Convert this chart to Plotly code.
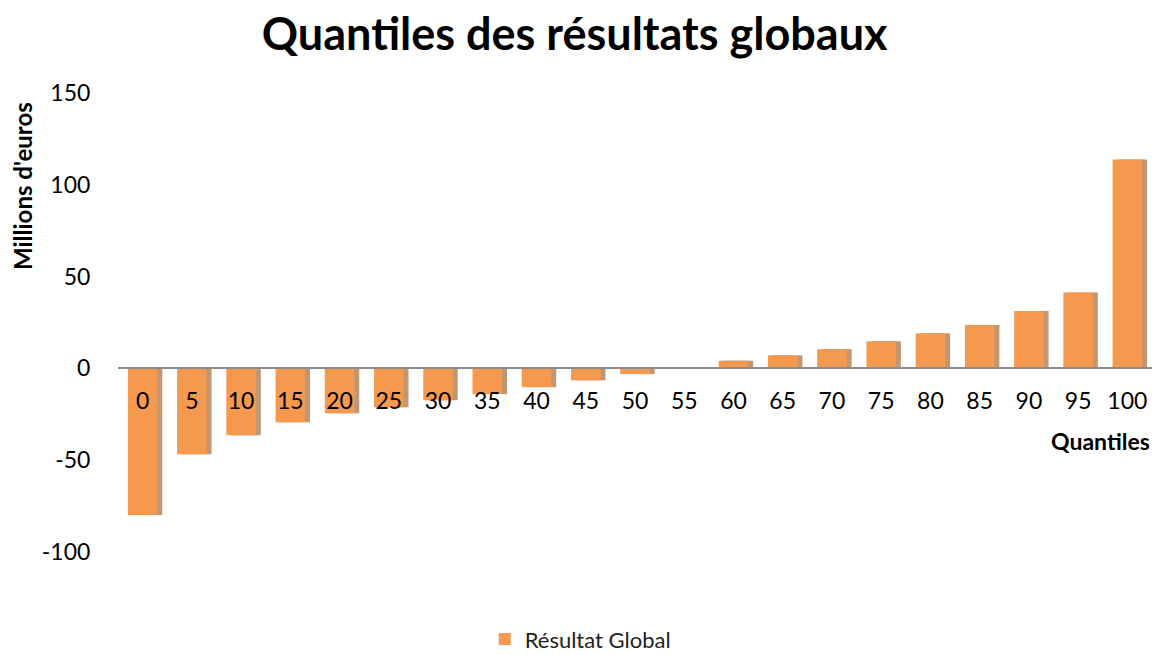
import plotly.graph_objects as go

quantiles = ["0", "5", "10", "15", "20", "25", "30", "35", "40", "45", "50",
             "55", "60", "65", "70", "75", "80", "85", "90", "95", "100"]
resultat_global = [-79.8, -46.7, -36.4, -29.3, -24.4, -21.1, -17.3, -14.0, -10.2, -6.5, -3.1,
                   0.5, 4.2, 7.1, 10.5, 14.8, 19.2, 23.6, 31.2, 41.4, 113.8]
y_ticks = [-100, -50, 0, 50, 100, 150]
y_tick_labels = ["-100", "-50", "0", "50", "100", "150"]

FONT = "Lato, 'Open Sans', sans-serif"

fig = go.Figure()

# soft shadow behind bars
fig.add_trace(go.Bar(
    x=quantiles, y=resultat_global, width=0.6, offset=-0.2,
    marker=dict(color="rgba(155,80,20,0.6)", line=dict(width=0)),
    showlegend=False, hoverinfo="skip",
))
fig.add_trace(go.Bar(
    x=quantiles, y=resultat_global, width=0.6, offset=-0.3,
    name="Résultat Global",
    marker=dict(color="#F5994F", line=dict(width=0)),
))

fig.update_layout(
    width=1161, height=655,
    margin=dict(l=118, r=9, t=93, b=103, autoexpand=False),
    paper_bgcolor="white", plot_bgcolor="white",
    barmode="overlay",
    font=dict(family=FONT, size=22, color="#000"),
    title=dict(text="<b>Quantiles des résultats globaux</b>", x=0.495, xanchor="center",
               y=0.947, yanchor="middle", font=dict(family=FONT, size=45, color="#000")),
    showlegend=True,
    legend=dict(orientation="h", x=0.447, xanchor="center", y=-0.19, yanchor="middle",
                font=dict(family=FONT, size=22, color="#222")),
    xaxis=dict(
        type="category", anchor="free", position=0.4,
        showline=True, linecolor="#8C8C8C", linewidth=2,
        showgrid=False, zeroline=False,
        ticks="outside", ticklen=12, tickcolor="rgba(0,0,0,0)",
        tickfont=dict(family=FONT, size=23, color="#000"),
    ),
    yaxis=dict(
        range=[-100, 150], tickvals=y_ticks, ticktext=y_tick_labels,
        showgrid=False, zeroline=False, showline=False,
        ticks="outside", ticklen=22, tickcolor="rgba(0,0,0,0)",
        tickfont=dict(family=FONT, size=23, color="#000"),
    ),
    annotations=[
        dict(text="<b>Millions d'euros</b>", textangle=-90, xref="paper", yref="paper",
             x=-0.093, y=0.797, xanchor="center", yanchor="middle", showarrow=False,
             font=dict(family=FONT, size=24, color="#000")),
        dict(text="<b>Quantiles</b>", xref="paper", yref="paper",
             x=1.0, y=0.242, xanchor="right", yanchor="middle", showarrow=False,
             font=dict(family=FONT, size=23, color="#000")),
    ],
)

fig.write_html("out.html", config={"displayModeBar": False},
               post_script="document.body.style.margin='0';document.body.style.overflow='hidden';")
